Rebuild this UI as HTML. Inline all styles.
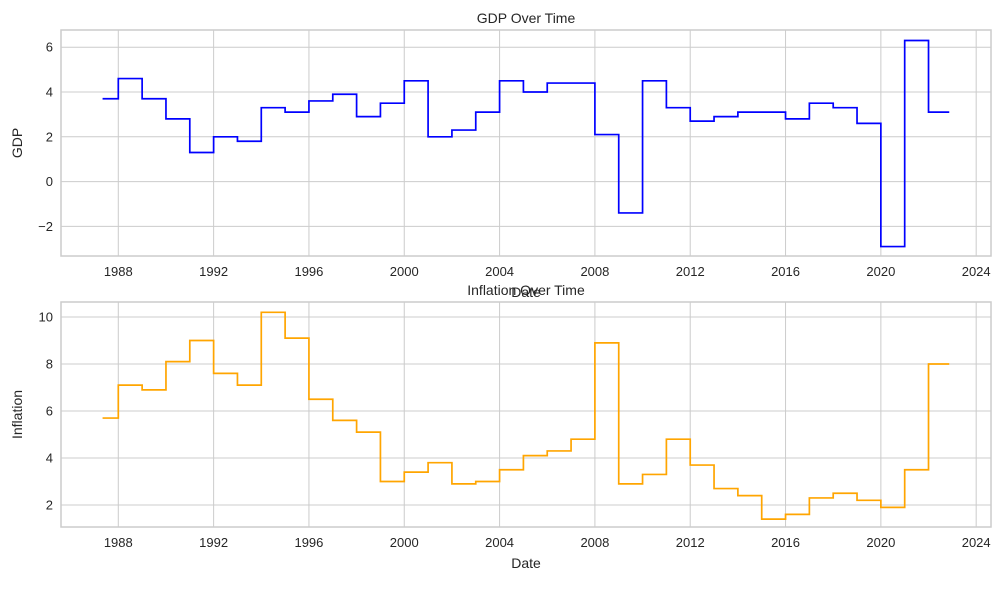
<!DOCTYPE html>
<html><head><meta charset="utf-8"><style>
html,body{margin:0;padding:0;background:#fff;}
svg text{font-family:"Liberation Sans",sans-serif;fill:#262626;}
</style></head><body>
<svg id="chart" width="1002" height="586" xmlns="http://www.w3.org/2000/svg"></svg>
<script>
const years = [1987,1988,1989,1990,1991,1992,1993,1994,1995,1996,1997,1998,1999,2000,2001,2002,2003,2004,2005,2006,2007,2008,2009,2010,2011,2012,2013,2014,2015,2016,2017,2018,2019,2020,2021,2022];
const gdpValues = [3.7,4.6,3.7,2.8,1.3,2.0,1.8,3.3,3.1,3.6,3.9,2.9,3.5,4.5,2.0,2.3,3.1,4.5,4.0,4.4,4.4,2.1,-1.4,4.5,3.3,2.7,2.9,3.1,3.1,2.8,3.5,3.3,2.6,-2.9,6.3,3.1];
const inflationValues = [5.7,7.1,6.9,8.1,9.0,7.6,7.1,10.2,9.1,6.5,5.6,5.1,3.0,3.4,3.8,2.9,3.0,3.5,4.1,4.3,4.8,8.9,2.9,3.3,4.8,3.7,2.7,2.4,1.4,1.6,2.3,2.5,2.2,1.9,3.5,8.0];
const xTicks = [1988,1992,1996,2000,2004,2008,2012,2016,2020,2024];
const gdpTicks = [-2,0,2,4,6];
const inflationTicks = [2,4,6,8,10];
const startYear = 1987.34, endYear = 2022.87;

const NS = "http://www.w3.org/2000/svg";
const svg = document.getElementById('chart');
function mk(tag, attrs, parent){const e=document.createElementNS(NS,tag);for(const k in attrs)e.setAttribute(k,attrs[k]);(parent||svg).appendChild(e);return e;}
const xScale = y => 118.3 + (y-1988)*23.83;

function panel(name, top, bottom, yScale, yTicks, values, color, title, ylabel){
  const g = mk('g',{});
  
  
  const L=61,R=991;
  xTicks.forEach(t=>{
    const x=xScale(t);
    const l=mk('line',{x1:x,x2:x,y1:top,y2:bottom,stroke:'#cccccc','stroke-width':1},g);
    
    
    const tx=mk('text',{x:x,y:bottom+20,'text-anchor':'middle','font-size':13},g);
    tx.textContent=t;
    
    
  });
  yTicks.forEach(t=>{
    const y=yScale(t);
    const l=mk('line',{x1:L,x2:R,y1:y,y2:y,stroke:'#cccccc','stroke-width':1},g);
    
    
    const tx=mk('text',{x:L-8,y:y+4.5,'text-anchor':'end','font-size':13},g);
    tx.textContent=t<0?'\u2212'+Math.abs(t):t;
    
    
  });
  const fr=mk('rect',{x:L,y:top,width:R-L,height:bottom-top,fill:'none',stroke:'#cccccc','stroke-width':1.5},g);
  
  
  let d='';
  values.forEach((v,i)=>{
    const x0=xScale(i===0?startYear:years[i]);
    const x1=xScale(i===values.length-1?endYear:years[i]+1);
    const y=yScale(v);
    d+=(i===0?'M':'L')+x0+','+y+'L'+x1+','+y;
  });
  const p=mk('path',{d:d,fill:'none',stroke:color,'stroke-width':1.7},g);
  
  
  const tt=mk('text',{x:(L+R)/2,y:top-7,'text-anchor':'middle','font-size':14},g);
  tt.textContent=title;
  
  
  const xl=mk('text',{x:(L+R)/2,y:bottom+41,'text-anchor':'middle','font-size':14},g);
  xl.textContent='Date';
  
  
  const cy=(top+bottom)/2;
  const yl=mk('text',{x:22,y:cy,'text-anchor':'middle','font-size':14,transform:'rotate(-90 22 '+cy+')'},g);
  yl.textContent=ylabel;
  
  
}
panel('gdp',30,256,v=>181.6-v*22.4,gdpTicks,gdpValues,'#0000ff','GDP Over Time','GDP');
panel('inflation',302,527,v=>505-(v-2)*23.5,inflationTicks,inflationValues,'#ffa500','Inflation Over Time','Inflation');
</script>
</body></html>
